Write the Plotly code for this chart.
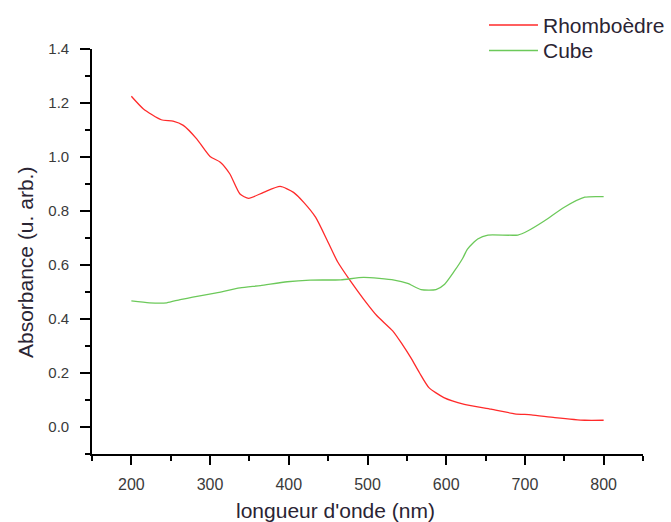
import plotly.graph_objects as go

# Rhomboèdre series
rh_x = [200, 215, 238, 253, 266, 283, 300, 313, 325, 338, 349, 368, 389, 406, 419, 434, 449, 462,
        478, 495, 512, 532, 544, 555, 566, 578, 597, 623, 657, 687, 708, 738, 776, 800]
rh_y = [1.225, 1.179, 1.138, 1.133, 1.117, 1.067, 1.002, 0.981, 0.938, 0.863, 0.847, 0.869, 0.891, 0.869,
        0.832, 0.777, 0.690, 0.612, 0.542, 0.474, 0.412, 0.356, 0.307, 0.257, 0.201, 0.146, 0.109,
        0.084, 0.066, 0.049, 0.045, 0.035, 0.025, 0.025]

# Cube series
cu_x = [200, 223, 245, 262, 287, 308, 338, 364, 398, 427, 466, 495, 534, 551, 568, 587, 598, 610,
        621, 627, 640, 653, 691, 704, 725, 750, 776, 800]
cu_y = [0.467, 0.460, 0.460, 0.472, 0.486, 0.497, 0.515, 0.524, 0.538, 0.544, 0.545, 0.554, 0.544,
        0.532, 0.509, 0.509, 0.529, 0.576, 0.625, 0.659, 0.696, 0.711, 0.711, 0.727, 0.764, 0.814,
        0.851, 0.853]

series_names = ["Rhomboèdre", "Cube"]
series_colors = ["#ff2a2a", "#6cc95a"]
x_title = "longueur d'onde (nm)"
y_title = "Absorbance (u. arb.)"

FONT = "Liberation Sans, Arial, sans-serif"
TXT = "#2a2433"

fig = go.Figure()
fig.add_trace(go.Scatter(x=rh_x, y=rh_y, mode="lines", name=series_names[0],
                         line=dict(color=series_colors[0], width=1.3, shape="spline", smoothing=0.6),
                         showlegend=False))
fig.add_trace(go.Scatter(x=cu_x, y=cu_y, mode="lines", name=series_names[1],
                         line=dict(color=series_colors[1], width=1.3, shape="spline", smoothing=0.6),
                         showlegend=False))

# manual legend (to match long legend line samples)
leg_y = [1.059, 0.996]
for name, color, yy in zip(series_names, series_colors, leg_y):
    fig.add_shape(type="line", xref="paper", yref="paper", x0=0.7205, x1=0.8094, y0=yy, y1=yy,
                  line=dict(color=color, width=1.5))
    fig.add_annotation(xref="paper", yref="paper", x=0.8203, y=yy, text=name, showarrow=False,
                       xanchor="left", yanchor="middle", xshift=-3,
                       font=dict(family=FONT, size=21, color=TXT))

# axis titles (placed as in the reference, slightly off-centre)
fig.add_annotation(xref="paper", yref="paper", x=0.4428, y=-0.1383, text=x_title, showarrow=False,
                   xanchor="center", yanchor="middle",
                   font=dict(family=FONT, size=21, color=TXT))
fig.add_annotation(xref="paper", yref="paper", x=-0.1216, y=0.474, text=y_title, showarrow=False,
                   xanchor="center", yanchor="middle", textangle=-90,
                   font=dict(family=FONT, size=21, color=TXT))

fig.update_layout(
    width=671, height=522,
    margin=dict(l=92, r=28, t=49, b=68),
    paper_bgcolor="white", plot_bgcolor="white",
    font=dict(family=FONT),
)
fig.update_xaxes(
    range=[150, 850], tickmode="linear", tick0=200, dtick=100,
    showgrid=False, zeroline=False, automargin=False,
    showline=True, linecolor="black", linewidth=1.6,
    ticks="outside", ticklen=9, tickwidth=1.6, tickcolor="black",
    ticklabelstandoff=6,
    tickfont=dict(family=FONT, size=16, color="#3a3a3a"),
    minor=dict(dtick=50, tick0=150, ticks="outside", ticklen=5, tickwidth=1.6, tickcolor="black"),
)
fig.update_yaxes(
    range=[-0.1, 1.4], tickmode="linear", tick0=0, dtick=0.2, tickformat=".1f",
    showgrid=False, zeroline=False, automargin=False,
    showline=True, linecolor="black", linewidth=1.6,
    ticks="outside", ticklen=10, tickwidth=1.6, tickcolor="black",
    ticklabelstandoff=8,
    tickfont=dict(family=FONT, size=15, color="#3a3a3a"),
    minor=dict(dtick=0.1, tick0=0, ticks="outside", ticklen=5, tickwidth=1.6, tickcolor="black"),
)

fig.write_html("out.html", config={"displayModeBar": False},
               post_script="document.body.style.margin='0';")
